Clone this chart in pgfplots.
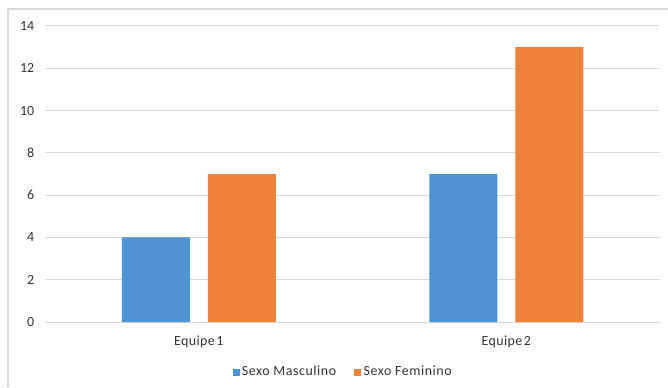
\documentclass[border=0pt]{standalone}
\usepackage{fontspec}
\setmainfont{Carlito}
\usepackage{pgfplots}
\pgfplotsset{compat=1.18}
\definecolor{xlblue}{HTML}{4E93D2}
\definecolor{xlorange}{HTML}{EF823B}
\definecolor{gridgray}{HTML}{D9D9D9}
\definecolor{txtgray}{HTML}{333333}
\begin{document}
\fontsize{14}{16}\selectfont
\begin{tikzpicture}[x=1bp,y=1bp]
\path[use as bounding box] (0,0) rectangle (668,387);
\draw[gridgray, line width=1.2bp] (8,0) -- (8,378) -- (668,378);
\begin{axis}[
  at={(45bp,65bp)}, anchor=south west,
  scale only axis, width=615bp, height=296bp,
  xmin=-0.5, xmax=1.5, ymin=0, ymax=14,
  ybar=18bp, bar width=68bp,
  xtick={0,1}, xticklabels={Equipe\hspace{1.5bp}1, Equipe\hspace{1.5bp}2},
  ytick={0,2,...,14},
  ymajorgrids, grid style={gridgray, line width=1bp},
  axis lines*=left,
  axis line style={draw=none},
  major tick length=0pt,
  tick label style={font=\fontsize{14}{16}\selectfont, text=txtgray},
  /pgf/number format/assume math mode=true,
  yticklabel style={anchor=east, xshift=-6bp},
  xticklabel style={yshift=-9bp, font=\fontsize{14}{16}\selectfont\addfontfeature{LetterSpace=3}},
  every axis plot/.append style={draw=none},
  legend style={at={(0.485,-0.169)}, anchor=center, draw=none, fill=none,
    legend columns=2, font=\fontsize{14}{16}\selectfont\addfontfeature{LetterSpace=4}, text=txtgray,
    nodes={inner xsep=2.2bp},
    /tikz/every even column/.append style={column sep=16bp}},
  legend image code/.code={\fill[#1] (0bp,-4bp) rectangle (7bp,3bp);},
  clip=false,
]
\draw[gridgray, line width=1bp] (axis cs:-0.5,0) -- (axis cs:1.5,0);
\addplot[fill=xlblue] coordinates {(0,4) (1,7)};
\addplot[fill=xlorange] coordinates {(0,7) (1,13)};
\legend{Sexo Masculino, Sexo Feminino}
\end{axis}
\end{tikzpicture}
\end{document}
